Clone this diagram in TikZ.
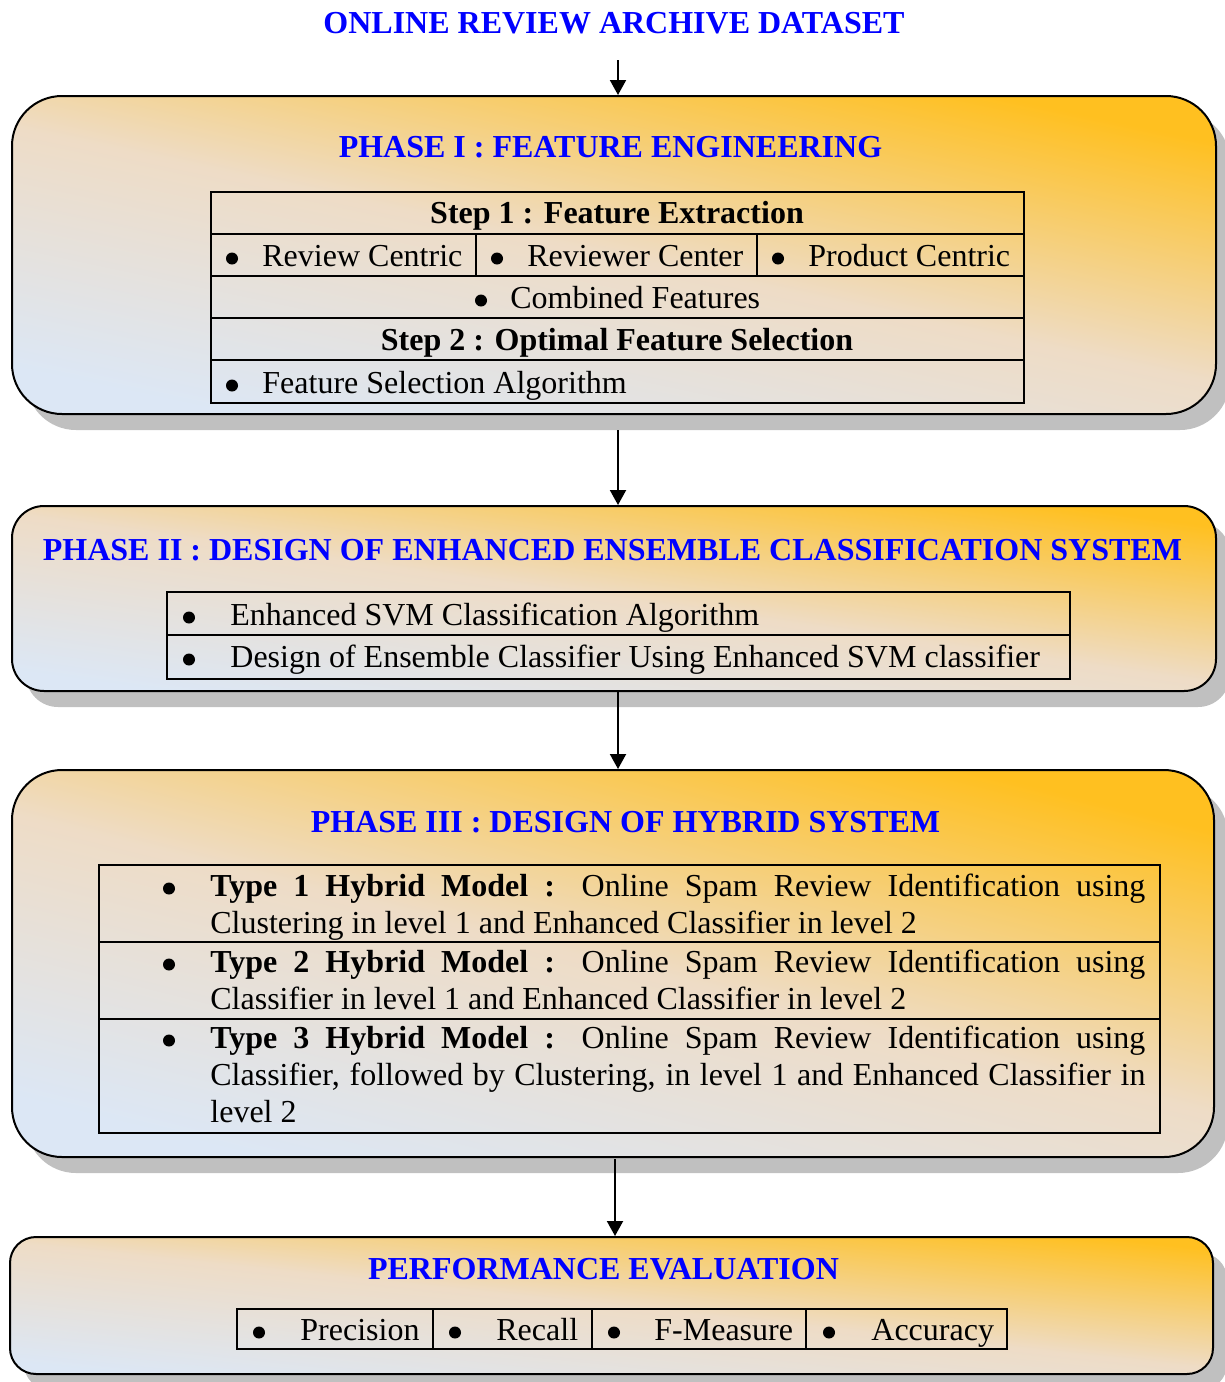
\documentclass[tikz,border=0pt]{standalone}
\usepackage{fontspec}
\setmainfont{Liberation Serif}
\usetikzlibrary{arrows.meta,shadows}

\definecolor{phgold}{HTML}{FFC020}
\definecolor{phbeige}{HTML}{EEDCC6}
\definecolor{phblue}{HTML}{DCE7F5}
\definecolor{shadowgray}{HTML}{C0C0C0}
\definecolor{headblue}{HTML}{0000FF}

\tikzset{
  phasebox/.style={draw, line width=1pt,
    top color=phgold, bottom color=phblue, middle color=phbeige, shading angle=-12,
    drop shadow={shadow xshift=7pt, shadow yshift=-8pt, fill=shadowgray, opacity=1}},
  head/.style={font=\fontsize{16}{18.5}\selectfont\bfseries, text=headblue, inner sep=0pt, anchor=base},
  txt/.style={font=\fontsize{16}{18.5}\selectfont, inner sep=0pt, anchor=base west},
  bul/.style={circle, fill, inner sep=0pt, minimum size=6pt, yshift=3.75pt},
  para/.style={txt, text width=467.5pt, align=justify},
  tabline/.style={line width=1.1pt}
}

\begin{document}
\begin{tikzpicture}[x=0.5pt,y=-0.5pt,>={Triangle[width=8pt,length=7.5pt]}]
  \useasboundingbox (0,0) rectangle (1225,1382);

  % phase boxes
  \node[phasebox, rounded corners=25pt, minimum width=602pt, minimum height=159pt] (phI) at (614,255) {};
  \node[phasebox, rounded corners=16pt, minimum width=602pt, minimum height=92.5pt, shading angle=-8] (phII) at (614,598.5) {};
  \node[phasebox, rounded corners=25pt, minimum width=601pt, minimum height=193.5pt, shading angle=-14] (phIII) at (613,963.5) {};
  \node[phasebox, rounded corners=13pt, minimum width=601.5pt, minimum height=68.5pt, shading angle=-6] (perf) at (611.5,1305.5) {};

  % arrows
  \coordinate (a1) at (618,60);
  \coordinate (a2) at (618,430);
  \coordinate (a3) at (618,692);
  \coordinate (a4) at (615,1159);
  \draw[->, line width=1pt] (a1) -- (a1 |- phI.north);
  \draw[->, line width=1pt] (a2) -- (a2 |- phII.north);
  \draw[->, line width=1pt] (a3) -- (a3 |- phIII.north);
  \draw[->, line width=1pt] (a4) -- (a4 |- perf.north);

  % headings
  \node[head] (dataset) at (614,33) {ONLINE REVIEW ARCHIVE DATASET};
  \node[head] (hI) at (610.5,157) {PHASE I : FEATURE ENGINEERING};
  \node[head] (hII) at (612.5,560) {PHASE II : DESIGN OF ENHANCED ENSEMBLE CLASSIFICATION SYSTEM};
  \node[head] (hIII) at (625.5,832) {PHASE III : DESIGN OF HYBRID SYSTEM};
  \node[head] (hperf) at (603.5,1279) {PERFORMANCE EVALUATION};

  % phase I table
  \draw[tabline] (211,192) rectangle (1024,403);
  \foreach \y in {234,276,318,360}
    \draw[tabline] (211,\y) -- (1024,\y);
  \draw[tabline] (476,234) -- (476,276) (757,234) -- (757,276);
  \node[head, text=black] (step1) at (617,223) {Step 1 : Feature Extraction};
  \foreach \n/\bx/\tx/\lbl in {rc/232/262/Review Centric,rv/497/527/Reviewer Center,pc/778/808/Product Centric}{
    \node[bul] (b\n) at (\bx,266) {};
    \node[txt] (\n) at (\tx,266) {\lbl};
  }
  \node[bul] (bcf) at (481,308) {};
  \node[txt] (cf) at (510,308) {Combined Features};
  \node[head, text=black] (step2) at (617,350) {Step 2 : Optimal Feature Selection};
  \node[bul] (bfs) at (232,393) {};
  \node[txt] (fs) at (262,393) {Feature Selection Algorithm};

  % phase II table
  \draw[tabline] (167,592) rectangle (1070,679);
  \draw[tabline] (167,635) -- (1070,635);
  \node[bul] (bsvm) at (189,625) {};
  \node[txt] (svm) at (230,625) {Enhanced SVM Classification Algorithm};
  \node[bul] (bens) at (189,667) {};
  \node[txt] (ens) at (230,667) {Design of Ensemble Classifier Using Enhanced SVM classifier};

  % phase III table
  \draw[tabline] (99,865) rectangle (1160,1133);
  \draw[tabline] (99,942) -- (1160,942) (99,1019) -- (1160,1019);
  \node[bul] (bty1) at (169,896) {};
  \node[para] (ty1) at (210,896) {\textbf{Type 1 Hybrid Model :} Online Spam Review Identification using\linebreak Clustering in level 1 and Enhanced Classifier in level 2};
  \node[bul] (bty2) at (169,972) {};
  \node[para] (ty2) at (210,972) {\textbf{Type 2 Hybrid Model :} Online Spam Review Identification using\linebreak Classifier in level 1 and Enhanced Classifier in level 2};
  \node[bul] (bty3) at (169,1048) {};
  \node[para] (ty3) at (210,1048) {\textbf{Type 3 Hybrid Model :} Online Spam Review Identification using\linebreak Classifier, followed by Clustering, in level 1 and Enhanced Classifier in\linebreak level 2};

  % performance table
  \draw[tabline] (237,1309) rectangle (1007,1349);
  \draw[tabline] (433,1309) -- (433,1349) (592,1309) -- (592,1349) (806,1309) -- (806,1349);
  \foreach \n/\bx/\tx/\lbl in {pr/259/300/Precision,rl/455/496/Recall,fm/614/654/F-Measure,ac/829/871/Accuracy}{
    \node[bul] (b\n) at (\bx,1340) {};
    \node[txt] (\n) at (\tx,1340) {\lbl};
  }
\end{tikzpicture}
\end{document}
